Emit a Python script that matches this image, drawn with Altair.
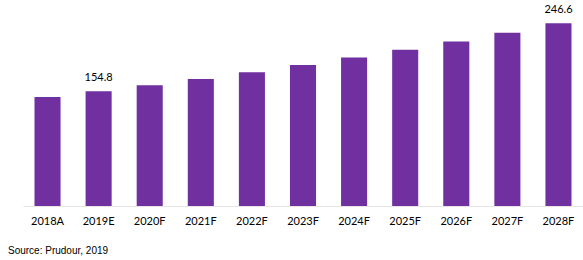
import altair as alt
import pandas as pd

years = ["2018A", "2019E", "2020F", "2021F", "2022F", "2023F",
         "2024F", "2025F", "2026F", "2027F", "2028F"]
values = [147.0, 154.8, 163.0, 171.6, 180.7, 190.3, 200.4, 211.0, 222.2, 234.0, 246.6]
labels = ["", "154.8", "", "", "", "", "", "", "", "", "246.6"]

df = pd.DataFrame({"year": years, "value": values, "label": labels})

x = alt.X("year:N", sort=years,
          scale=alt.Scale(paddingInner=0.49, paddingOuter=0.225),
          axis=alt.Axis(title=None, labelAngle=0, ticks=False, domainColor="#e6e6e6",
                        labelFont="Lato", labelFontSize=11, labelColor="#000000",
                        labelPadding=9))
y = alt.Y("value:Q", scale=alt.Scale(domain=[0, 270], nice=False), axis=None)

bars = alt.Chart(df).mark_bar(color="#7030A0").encode(x=x, y=y)
text = alt.Chart(df).mark_text(dy=-13, font="Lato", fontSize=11, color="#000000",
                               baseline="middle").encode(x=x, y=y, text="label:N")

chart = (bars + text).properties(
    width=560, height=200,
    autosize=alt.AutoSizeParams(type="none"),
    padding={"left": 23, "top": 6, "right": 0, "bottom": 54},
    title=alt.TitleParams(text="Source: Prudour, 2019", orient="bottom", anchor="start",
                          font="Liberation Sans", fontSize=10, fontWeight="normal",
                          color="#000000", dx=-15, offset=20),
).configure_view(stroke=None).configure_axis(grid=False)

chart.save("out.html", embed_options={"renderer": "svg", "actions": False})
